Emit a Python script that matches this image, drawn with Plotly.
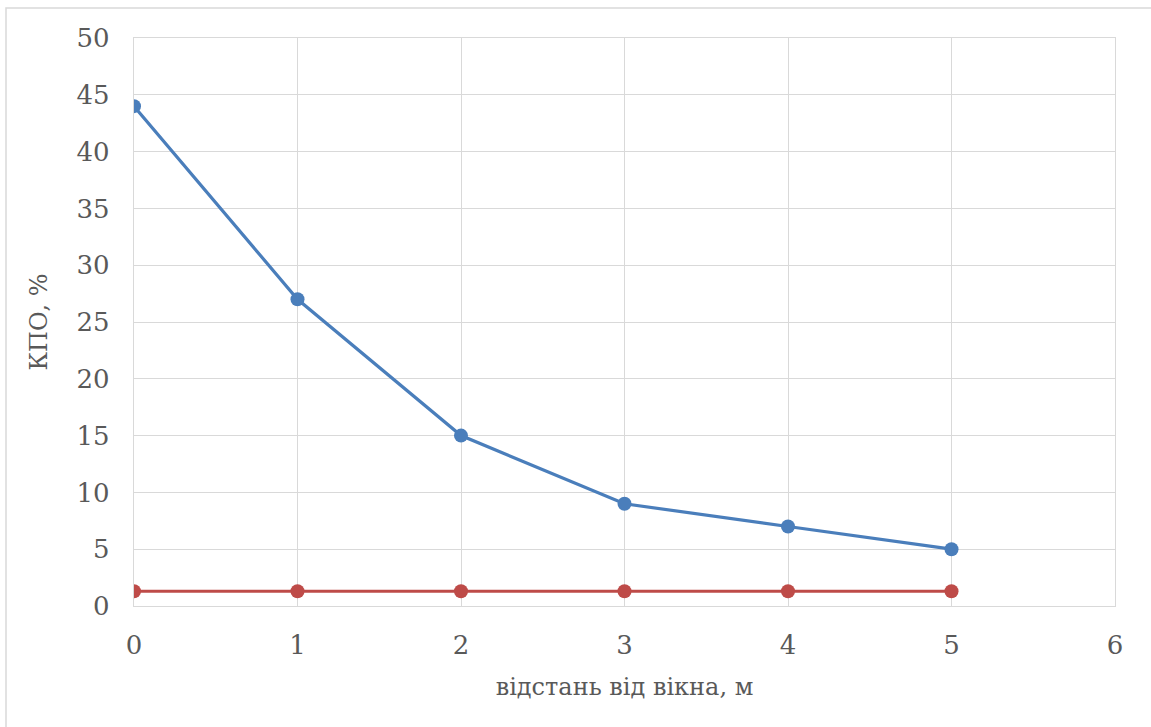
import plotly.graph_objects as go

# distance from the window, m
distance = [0, 1, 2, 3, 4, 5]
# daylight factor values, %
kpo_actual = [44, 27, 15, 9, 7, 5]
kpo_norm = [1.3, 1.3, 1.3, 1.3, 1.3, 1.3]

x_ticks = [0, 1, 2, 3, 4, 5, 6]
y_ticks = [0, 5, 10, 15, 20, 25, 30, 35, 40, 45, 50]

W, H = 1151, 727
L, R, T, B = 134, 36, 38, 121
pw, ph = W - L - R, H - T - B

fig = go.Figure()
fig.add_trace(go.Scatter(
    x=distance, y=kpo_actual, mode="lines+markers",
    line=dict(color="#4A7EBB", width=3.2),
    marker=dict(color="#4A7EBB", size=14),
    showlegend=False,
))
fig.add_trace(go.Scatter(
    x=distance, y=kpo_norm, mode="lines+markers",
    line=dict(color="#BE4B48", width=3.2),
    marker=dict(color="#BE4B48", size=14),
    showlegend=False,
))

tick_font = dict(family="DejaVu Serif", size=26, color="#595959")
title_font = dict(family="DejaVu Serif", size=24, color="#595959")

fig.update_layout(
    width=W, height=H,
    margin=dict(l=L, r=R, t=T, b=B),
    paper_bgcolor="white", plot_bgcolor="white",
    font=title_font,
    xaxis=dict(
        range=[0, 6], tickvals=x_ticks, showgrid=True, gridcolor="#D9D9D9", gridwidth=1.3,
        showline=True, linecolor="#D9D9D9", linewidth=1.3, mirror=True, zeroline=False,
        ticks="", ticklabelstandoff=16, tickfont=tick_font,
        title=dict(text="відстань від вікна, м", standoff=18, font=title_font),
    ),
    yaxis=dict(
        range=[0, 50], tickvals=y_ticks, showgrid=True, gridcolor="#D9D9D9", gridwidth=1.3,
        showline=True, linecolor="#D9D9D9", linewidth=1.3, mirror=True, zeroline=False,
        ticks="", ticklabelstandoff=18, tickfont=tick_font,
        title=dict(text="КПО, %", standoff=22, font=title_font),
    ),
    shapes=[dict(
        type="rect", xref="paper", yref="paper",
        x0=(6 - L) / pw, x1=(W + 10 - L) / pw,
        y0=(T + ph - (H + 10)) / ph, y1=(T + ph - 8) / ph,
        line=dict(color="#D9D9D9", width=1.5), fillcolor="rgba(0,0,0,0)", layer="below",
    )],
)

fig.write_html("out.html")
